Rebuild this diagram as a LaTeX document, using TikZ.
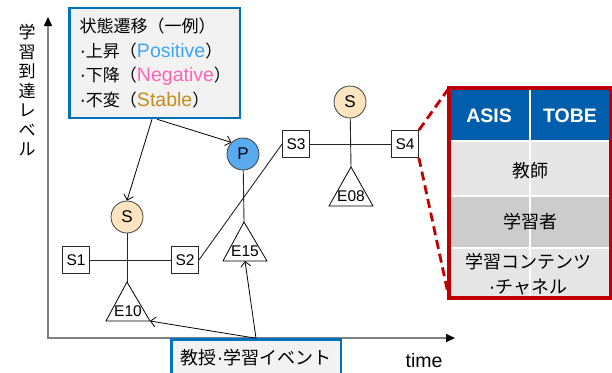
\documentclass[tikz,border=0pt]{standalone}
\usepackage{fontspec}
\setmainfont{Liberation Sans}
\newfontfamily\jp{Noto Sans CJK JP}
\usetikzlibrary{arrows.meta}
\definecolor{lgblue}{RGB}{0,112,192}
\definecolor{lgfill}{RGB}{242,242,242}
\definecolor{posc}{RGB}{62,166,245}
\definecolor{negc}{RGB}{255,102,178}
\definecolor{stac}{RGB}{196,140,30}
\definecolor{pfill}{RGB}{90,170,240}
\definecolor{sfill}{RGB}{252,228,192}
\definecolor{hdr}{RGB}{0,94,172}
\definecolor{rowa}{RGB}{230,230,230}
\definecolor{rowb}{RGB}{204,204,204}
\definecolor{redc}{RGB}{192,0,0}
\definecolor{axisc}{RGB}{128,128,128}
\newcommand\latw[1]{{\rmfamily\fontsize{19.5}{24.6}\selectfont #1}}
\begin{document}
\begin{tikzpicture}[x=1pt,y=-1pt,
  sbox/.style={draw=black!85,fill=white,line width=0.8pt,minimum size=27pt,inner sep=0pt,font=\fontsize{15.5}{15.5}\selectfont},
  state/.style={circle,draw=black!75,line width=0.8pt,minimum size=32pt,inner sep=0pt,font=\fontsize{17}{17}\selectfont},
  link/.style={line width=0.9pt,black!85},
  tri/.style={draw=black,line width=0.8pt,fill=white},
  trilabel/.style={font=\fontsize{15.5}{15.5}\selectfont,inner sep=0pt},
  ptr/.style={line width=0.8pt,-{Straight Barb[length=5pt,width=10pt]}},
  axis/.style={axisc,line width=1.5pt,{Triangle[length=9pt,width=8pt,color=black]}-{Triangle[length=9pt,width=8pt,color=black]}},
  callout/.style={draw=lgblue,line width=2.5pt,fill=lgfill},
  zoomline/.style={redc,line width=2.8pt,dash pattern=on 9pt off 5pt},
  jptext/.style={font=\jp\fontsize{18}{25}\selectfont},
]
\useasboundingbox (0,0) rectangle (612,372);

% axes
\coordinate (O) at (48,338);
\coordinate (Ytip) at (48,17);
\coordinate (Xtip) at (455,338);
\draw[axis] (Ytip) -- (O) -- (Xtip);
\node[align=center,inner sep=0pt,font=\jp\fontsize{17}{19.5}\selectfont] (ylab) at (27,90.5) {学\\習\\到\\達\\レ\\ベ\\ル};
\node[inner sep=0pt,font=\fontsize{19.5}{19.5}\selectfont] (tlab) at (424,361) {time};

% state circles and boxes
\node[state,fill=sfill] (s1) at (127,217) {S};
\node[state,fill=pfill] (p) at (243,154) {P};
\node[state,fill=sfill] (s2c) at (350,102) {S};
\node[sbox] (S1) at (76,260) {S1};
\node[sbox] (S2) at (185,260) {S2};
\node[sbox] (S3) at (296,144) {S3};
\node[sbox] (S4) at (405,144) {S4};

% triangle corners
\coordinate (e10a) at (127,282); \coordinate (e10l) at (106,321); \coordinate (e10r) at (150,321);
\coordinate (e15a) at (244,222); \coordinate (e15l) at (223,261); \coordinate (e15r) at (267,261);
\coordinate (e15m) at (245,261);
\coordinate (e08a) at (351,167); \coordinate (e08l) at (329,206); \coordinate (e08r) at (373,206);

% links
\draw[link] (S1) -- (S2);
\draw[link] (s1) -- (e10a);
\draw[link] (p) -- (e15a);
\draw[link] (S2.east) -- (S3.west);
\draw[link] (S3) -- (S4);
\draw[link] (s2c) -- (e08a);

% triangles
\draw[tri] (e10a) -- (e10l) -- (e10r) -- cycle;
\draw[tri] (e15a) -- (e15l) -- (e15r) -- cycle;
\draw[tri] (e08a) -- (e08l) -- (e08r) -- cycle;
\node[trilabel] (e10) at (128,311.5) {E10};
\node[trilabel] (e15) at (245,251.5) {E15};
\node[trilabel] (e08) at (351,196.5) {E08};

% legend
\node[callout,minimum width=170.5pt,minimum height=110pt,text width=150pt,align=left,inner sep=0pt,
  font=\jp\fontsize{17}{24.6}\selectfont] (legend) at (154.5,63)
  {状態遷移（一例）\\
   \latw{·}上昇（\textcolor{posc}{\latw{Positive}}）\\
   \latw{·}下降（\textcolor{negc}{\latw{Negative}}）\\
   \latw{·}不変（\textcolor{stac}{\latw{Stable}}）};
\draw[ptr] ([xshift=-2.5pt]legend.south) -- (s1.north);
\draw[ptr] ([xshift=2.5pt]legend.south) -- (p.135);

% event box
\node[callout,minimum width=169.5pt,minimum height=45pt,inner sep=0pt] (event) at (256,362) {};
\node[inner sep=0pt,font=\jp\fontsize{18}{18}\selectfont] (eventtxt) at (256,358) {教授\latw{·}学習イベント};
\draw[ptr] (event.north) -- (e15m);
\draw[ptr] (event.north) -- (e10r);

% table
\fill[hdr] (449,88) rectangle (610.5,140);
\fill[rowa] (449,142) rectangle (610.5,195);
\fill[rowb] (449,196.5) rectangle (610.5,247);
\fill[rowa] (449,248.5) rectangle (610.5,298);
\draw[white,line width=1.2pt] (530,88) -- (530,298);
\node[draw=redc,line width=3.5pt,outer sep=0pt,inner sep=0pt,minimum width=161.5pt,minimum height=210pt,anchor=north west] (tbl) at (449,88) {};
\node[text=white,font=\bfseries\fontsize{19.5}{19.5}\selectfont] (asis) at (489,116) {ASIS};
\node[text=white,font=\bfseries\fontsize{19.5}{19.5}\selectfont] (tobe) at (570,116) {TOBE};
\node[jptext] (teacher) at (530,171) {教師};
\node[jptext] (learner) at (530,222) {学習者};
\node[jptext,align=center] (content) at (528,274.5) {学習コンテンツ\\\latw{·}チャネル};

% zoom lines
\draw[zoomline] (S4.north east) -- (tbl.north west);
\draw[zoomline] (S4.south east) -- (tbl.south west);
\end{tikzpicture}
\end{document}
